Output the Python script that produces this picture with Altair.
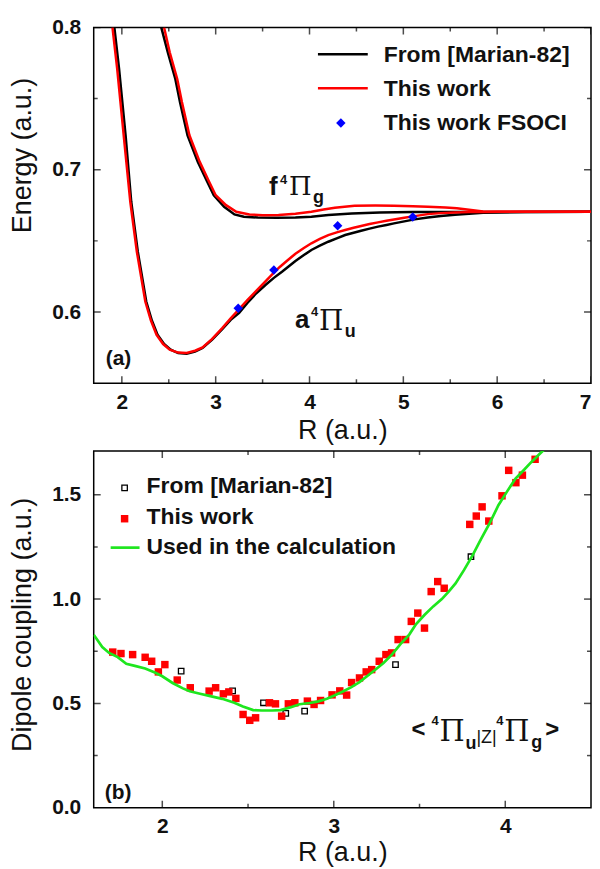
import altair as alt
import pandas as pd

SANS = "Liberation Sans"
SERIF = "DejaVu Serif"
TEXT = "#111111"

# ---------------- panel (a): potential energy curves ----------------
A_MARIAN_R = [1.92, 1.97, 2.04, 2.10, 2.17, 2.26, 2.32, 2.38, 2.45, 2.52, 2.60, 2.69, 2.78, 2.86,
              2.96, 3.07, 3.16, 3.25, 3.34, 3.43, 3.53, 3.62, 3.71, 3.78, 3.85, 3.94, 4.02, 4.11,
              4.20, 4.29, 4.38, 4.47, 4.55, 4.64, 4.73, 4.82, 4.90, 5.01, 5.12, 5.26, 5.40, 5.55,
              5.70, 5.85, 6.00, 6.30, 7.00]
A_MARIAN_E = [0.800, 0.771, 0.724, 0.6775, 0.6424, 0.6074, 0.594, 0.584, 0.5775, 0.5736, 0.5712,
              0.5707, 0.5722, 0.5747, 0.5805, 0.5880, 0.5945, 0.5995, 0.6065, 0.6130, 0.6190,
              0.6240, 0.6285, 0.6322, 0.6358, 0.6400, 0.6436, 0.6466, 0.6494, 0.6518, 0.6541,
              0.6557, 0.6571, 0.6586, 0.6600, 0.6612, 0.6623, 0.6637, 0.6651, 0.6665, 0.6675,
              0.6684, 0.6691, 0.6697, 0.6700, 0.6703, 0.6704]

A_THIS_R = [1.90, 1.95, 2.02, 2.09, 2.16, 2.25, 2.31, 2.37, 2.44, 2.51, 2.60, 2.69, 2.78, 2.86,
            2.96, 3.07, 3.16, 3.25, 3.34, 3.43, 3.52, 3.60, 3.68, 3.77, 3.85, 3.94, 4.02, 4.11,
            4.20, 4.29, 4.38, 4.47, 4.55, 4.64, 4.73, 4.82, 4.90, 5.01, 5.12, 5.26, 5.40, 5.55,
            5.70, 5.85, 6.00, 6.50, 7.00]
A_THIS_E = [0.800, 0.771, 0.724, 0.6775, 0.6424, 0.6074, 0.594, 0.584, 0.5775, 0.5736, 0.5715,
            0.5712, 0.5728, 0.5752, 0.5810, 0.5887, 0.5955, 0.6020, 0.6085, 0.6147, 0.6208,
            0.6262, 0.6315, 0.6366, 0.6410, 0.6450, 0.6483, 0.6514, 0.6541, 0.6560, 0.6576,
            0.6592, 0.6604, 0.6618, 0.6630, 0.6641, 0.6650, 0.6662, 0.6674, 0.6688, 0.6695,
            0.6699, 0.6702, 0.6703, 0.6704, 0.6704, 0.6704]

F_MARIAN_R = [2.42, 2.49, 2.57, 2.62, 2.70, 2.81, 2.91, 2.98, 3.09, 3.20, 3.30, 3.45, 3.65, 3.85,
              4.02, 4.20, 4.45, 4.75, 5.10, 7.00]
F_MARIAN_E = [0.800, 0.7825, 0.7638, 0.7475, 0.7242, 0.7055, 0.6915, 0.6821, 0.6740, 0.6686,
              0.6670, 0.6664, 0.6663, 0.6664, 0.6670, 0.6681, 0.6692, 0.6700, 0.6703, 0.6704]

F_THIS_R = [2.45, 2.51, 2.59, 2.64, 2.72, 2.83, 2.93, 3.00, 3.11, 3.22, 3.36, 3.50, 3.67, 3.85,
            4.02, 4.15, 4.27, 4.40, 4.48, 4.70, 4.90, 5.10, 5.26, 5.45, 5.57, 5.70, 5.85, 6.20, 7.00]
F_THIS_E = [0.800, 0.7825, 0.7638, 0.7475, 0.7242, 0.7055, 0.6915, 0.6821, 0.6751, 0.6704,
            0.6686, 0.6680, 0.6681, 0.6690, 0.6704, 0.6720, 0.6733, 0.6742, 0.6747, 0.6748,
            0.6747, 0.6744, 0.6740, 0.6735, 0.6730, 0.6718, 0.6706, 0.6704, 0.6704]

FSOCI_R = [3.24, 3.62, 4.30, 5.10]
FSOCI_E = [0.6027, 0.6295, 0.6606, 0.6668]

A_X_MAJOR = [2, 3, 4, 5, 6, 7]
A_X_MINOR = [2.5, 3.5, 4.5, 5.5, 6.5]
A_Y_MAJOR = [0.6, 0.7, 0.8]
A_Y_MINOR = [0.65, 0.75]

# ---------------- panel (b): dipole coupling ----------------
B_MARIAN_R = [2.11, 2.41, 2.59, 2.72, 2.83, 3.36, 3.80]
B_MARIAN_D = [0.655, 0.560, 0.503, 0.452, 0.463, 0.686, 1.203]

B_THIS_R = [1.711, 1.759, 1.827, 1.900, 1.938, 1.977, 2.015, 2.087, 2.163, 2.273, 2.311, 2.356,
            2.388, 2.429, 2.471, 2.510, 2.544, 2.625, 2.660, 2.696, 2.735, 2.773, 2.846, 2.885,
            2.923, 2.990, 3.035, 3.075, 3.104, 3.150, 3.189, 3.221, 3.265, 3.304, 3.337, 3.375,
            3.419, 3.452, 3.490, 3.529, 3.568, 3.606, 3.644, 3.793, 3.831, 3.865, 3.904, 3.981,
            4.020, 4.062, 4.100, 4.174]
B_THIS_D = [0.746, 0.739, 0.734, 0.721, 0.702, 0.651, 0.686, 0.612, 0.575, 0.559, 0.575, 0.546,
            0.555, 0.524, 0.447, 0.419, 0.431, 0.503, 0.498, 0.439, 0.498, 0.503, 0.511, 0.495,
            0.514, 0.541, 0.560, 0.540, 0.600, 0.622, 0.651, 0.662, 0.702, 0.734, 0.742, 0.806,
            0.806, 0.893, 0.933, 0.861, 1.036, 1.084, 1.052, 1.358, 1.398, 1.442, 1.374, 1.495,
            1.617, 1.558, 1.594, 1.670]

B_FIT_R = [1.60, 1.65, 1.69, 1.74, 1.79, 1.84, 1.90, 1.96, 2.00, 2.06, 2.12, 2.16, 2.22, 2.28,
           2.35, 2.42, 2.47, 2.53, 2.58, 2.64, 2.69, 2.75, 2.80, 2.86, 2.91, 2.96, 3.00, 3.05,
           3.10, 3.15, 3.19, 3.24, 3.29, 3.34, 3.39, 3.44, 3.48, 3.53, 3.58, 3.63, 3.67, 3.71,
           3.76, 3.81, 3.86, 3.91, 3.96, 4.01, 4.06, 4.11, 4.15, 4.20, 4.25]
B_FIT_D = [0.829, 0.770, 0.742, 0.722, 0.690, 0.680, 0.667, 0.647, 0.630, 0.598, 0.572, 0.558,
           0.546, 0.535, 0.522, 0.503, 0.485, 0.468, 0.466, 0.466, 0.468, 0.482, 0.496, 0.502,
           0.510, 0.522, 0.537, 0.556, 0.577, 0.602, 0.628, 0.660, 0.694, 0.735, 0.785, 0.830,
           0.880, 0.925, 0.965, 1.000, 1.036, 1.075, 1.140, 1.211, 1.290, 1.365, 1.450, 1.515,
           1.578, 1.620, 1.655, 1.695, 1.735]

B_X_MAJOR = [2, 3, 4]
B_X_MINOR = [2.5, 3.5]
B_Y_MAJOR = [0.0, 0.5, 1.0, 1.5]
B_Y_MINOR = [0.25, 0.75, 1.25]

W = 499          # whole svg stays within the 584px body width (no shrink-to-fit)
H_TOP = 357
H_BOT = 358
ONE = pd.DataFrame({"k": [0]})


def frame(r, v):
    return pd.DataFrame({"R": r, "V": v})


def encoders(xdom, ydom, xvals, yvals, yfmt, ytitle, ytitle_y, x_title_pad):
    xscale = alt.Scale(domain=xdom, nice=False, zero=False)
    yscale = alt.Scale(domain=ydom, nice=False, zero=False)
    common = dict(ticks=False, domain=False, grid=False, labelFont=SANS, labelFontSize=21,
                  labelFontWeight="bold", labelColor=TEXT, titleFont=SANS, titleFontSize=27,
                  titleFontWeight="normal", titleColor=TEXT, labelOverlap=False)
    xaxis = alt.Axis(values=xvals, format="d", labelPadding=8, titlePadding=x_title_pad,
                     labelFlush=True, **common)
    yaxis = alt.Axis(values=yvals, format=yfmt, labelPadding=13, titlePadding=15,
                     titleY=ytitle_y, labelFlush=False, **common)

    def X(f):
        return alt.X(f, type="quantitative", scale=xscale, axis=xaxis, title="R (a.u.)")

    def Y(f):
        return alt.Y(f, type="quantitative", scale=yscale, axis=yaxis, title=ytitle)

    return X, Y


def tick_layers(X, Y, h, xmaj, xmin, ymaj, ymin):
    out = []
    for vals, size in ((xmaj, 14), (xmin, 8)):
        d = pd.DataFrame({"t": vals})
        for yv in (0, h):
            out.append(alt.Chart(d).mark_tick(orient="vertical", size=size, thickness=1.5,
                                              color="black", clip=True)
                       .encode(x=X("t"), y=alt.value(yv)))
    for vals, size in ((ymaj, 14), (ymin, 8)):
        d = pd.DataFrame({"t": vals})
        for xv in (0, W):
            out.append(alt.Chart(d).mark_tick(orient="horizontal", size=size, thickness=1.5,
                                              color="black", clip=True)
                       .encode(y=Y("t"), x=alt.value(xv)))
    return out


def txt(s, x, y, size, font=SANS, weight="bold", baseline="alphabetic", align="left"):
    return (alt.Chart(ONE)
            .mark_text(text=s, font=font, fontSize=size, fontWeight=weight, baseline=baseline,
                       align=align, color=TEXT)
            .encode(x=alt.value(x), y=alt.value(y)))


# ---------- top panel ----------
Xa, Ya = encoders([1.7, 7.0], [0.55, 0.8], A_X_MAJOR, A_Y_MAJOR, ".1f", "Energy (a.u.)", 128, 6)

top_layers = [
    alt.Chart(frame(A_MARIAN_R, A_MARIAN_E)).mark_line(color="black", strokeWidth=2.5, clip=True)
    .encode(x=Xa("R"), y=Ya("V")),
    alt.Chart(frame(F_MARIAN_R, F_MARIAN_E)).mark_line(color="black", strokeWidth=2.5, clip=True)
    .encode(x=Xa("R"), y=Ya("V")),
    alt.Chart(frame(A_THIS_R, A_THIS_E)).mark_line(color="#ff0000", strokeWidth=2.5, clip=True)
    .encode(x=Xa("R"), y=Ya("V")),
    alt.Chart(frame(F_THIS_R, F_THIS_E)).mark_line(color="#ff0000", strokeWidth=2.5, clip=True)
    .encode(x=Xa("R"), y=Ya("V")),
    alt.Chart(frame(FSOCI_R, FSOCI_E)).mark_point(shape="diamond", filled=True, size=90,
                                                  color="#0000ff", opacity=1)
    .encode(x=Xa("R"), y=Ya("V")),
]
top_layers += tick_layers(Xa, Ya, H_TOP, A_X_MAJOR, A_X_MINOR, A_Y_MAJOR, A_Y_MINOR)
top_layers += [
    alt.Chart(ONE).mark_rule(color="black", strokeWidth=2.5)
    .encode(x=alt.value(225), x2=alt.value(275), y=alt.value(27)),
    alt.Chart(ONE).mark_rule(color="#ff0000", strokeWidth=2.5)
    .encode(x=alt.value(225), x2=alt.value(275), y=alt.value(61)),
    alt.Chart(ONE).mark_point(shape="diamond", filled=True, size=90, color="#0000ff", opacity=1)
    .encode(x=alt.value(248), y=alt.value(96)),
    txt("From [Marian-82]", 291, 35, 23),
    txt("This work", 291, 69, 23),
    txt("This work FSOCI", 291, 103, 23),
    # f 4Pi_g
    txt("f", 176, 168, 26),
    txt("4", 187, 157, 13),
    txt("\u03a0", 196, 168, 26, font=SERIF, weight="normal"),
    txt("g", 220, 176, 18),
    # a 4Pi_u
    txt("a", 202, 302, 26),
    txt("4", 218, 290, 13),
    txt("\u03a0", 226, 304, 28, font=SERIF, weight="normal"),
    txt("u", 252, 311, 18),
    txt("(a)", 12, 333, 21, baseline="middle"),
]
top = alt.layer(*top_layers).properties(width=W, height=H_TOP)

# ---------- bottom panel ----------
Xb, Yb = encoders([1.6, 4.5], [0.0, 1.71], B_X_MAJOR, B_Y_MAJOR, ".1f",
                  "Dipole coupling (a.u.)", 174, 3)

bot_layers = [
    alt.Chart(frame(B_MARIAN_R, B_MARIAN_D)).mark_point(shape="square", filled=False, size=30,
                                                        color="black", strokeWidth=1.3, opacity=1)
    .encode(x=Xb("R"), y=Yb("V")),
    alt.Chart(frame(B_THIS_R, B_THIS_D)).mark_square(size=56, color="#ff0000", opacity=1)
    .encode(x=Xb("R"), y=Yb("V")),
    alt.Chart(frame(B_FIT_R, B_FIT_D)).mark_line(color="#1ee61e", strokeWidth=2.7, clip=True)
    .encode(x=Xb("R"), y=Yb("V")),
]
bot_layers += tick_layers(Xb, Yb, H_BOT, B_X_MAJOR, B_X_MINOR, B_Y_MAJOR, B_Y_MINOR)
bot_layers += [
    alt.Chart(ONE).mark_point(shape="square", filled=False, size=30, color="black",
                              strokeWidth=1.3, opacity=1)
    .encode(x=alt.value(31), y=alt.value(37)),
    alt.Chart(ONE).mark_square(size=56, color="#ff0000", opacity=1)
    .encode(x=alt.value(31), y=alt.value(68)),
    alt.Chart(ONE).mark_rule(color="#1ee61e", strokeWidth=2.7)
    .encode(x=alt.value(17), x2=alt.value(46), y=alt.value(97)),
    txt("From [Marian-82]", 53, 42, 23),
    txt("This work", 53, 73, 23),
    txt("Used in the calculation", 53, 103, 23),
    # <4Pi_u|Z|4Pi_g>
    txt("<", 319, 280, 24, baseline="middle"),
    txt("4", 339, 275, 13),
    txt("\u03a0", 347, 291, 29, font=SERIF, weight="normal"),
    txt("u", 373, 299, 18),
    txt("|Z|", 384, 293, 18, weight="normal"),
    txt("4", 404, 275, 13),
    txt("\u03a0", 412, 291, 29, font=SERIF, weight="normal"),
    txt("g", 439, 298, 18),
    txt(">", 453, 280, 24, baseline="middle"),
    txt("(b)", 11, 343, 21, baseline="middle"),
]
bottom = alt.layer(*bot_layers).properties(width=W, height=H_BOT)

chart = (alt.vconcat(top, bottom, spacing=5)
         .properties(padding={"left": 0, "top": 6, "right": 0, "bottom": 0},
                     background="white")
         .configure_view(stroke="black", strokeWidth=1.5))

chart.save("out.html", embed_options={"renderer": "svg", "actions": False})
